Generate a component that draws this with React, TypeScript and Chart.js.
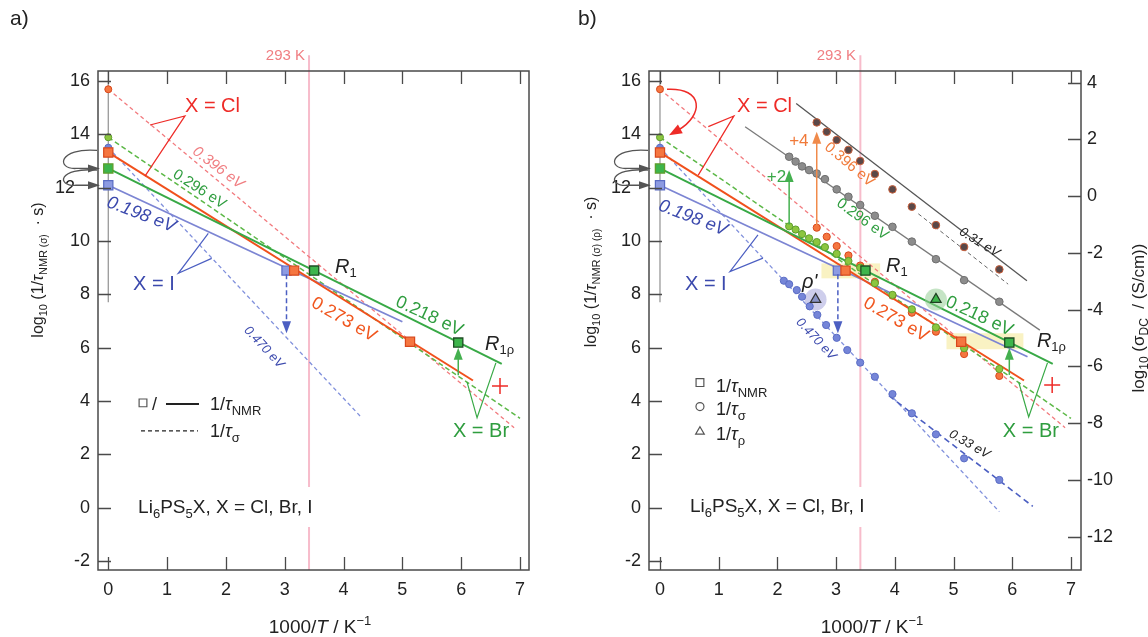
import React, { useEffect, useRef } from 'react';
import { Chart, registerables } from 'chart.js';

Chart.register(...registerables);
const FONT = '"Liberation Sans", Arial, Helvetica, sans-serif';
Chart.defaults.font.family = FONT;

// ---------- axes ----------
const xTicks = [0, 1, 2, 3, 4, 5, 6, 7];
const yTicks = [-2, 0, 2, 4, 6, 8, 10, 12, 14, 16];
const y2Ticks = [-12, -10, -8, -6, -4, -2, 0, 2, 4];
const T293 = 1000 / 293;

// ---------- 1/tau_NMR (squares) ----------
const nmrI_x = [0, 3.03];
const nmrI_y = [12.09, 8.89];
const nmrCl_x = [0, 3.16, 5.13];
const nmrCl_y = [13.32, 8.89, 6.22];
const nmrBr_x = [0, 3.5, 5.95];
const nmrBr_y = [12.72, 8.89, 6.19];

// ---------- 1/tau_sigma at 1000/T = 0 (Cl, Br, I) ----------
const sigInf_y = [15.69, 13.89, 13.5];

// ---------- 1/tau_sigma from conductivity ----------
const sigI_x = [2.11, 2.2, 2.33, 2.42, 2.55, 2.68, 2.83, 3.01, 3.19, 3.41, 3.66, 3.96, 4.29, 4.7, 5.18, 5.78];
const sigI_y = [8.51, 8.38, 8.16, 7.91, 7.55, 7.23, 6.85, 6.37, 5.91, 5.44, 4.91, 4.26, 3.54, 2.75, 1.85, 1.04];
const sigCl_x = [2.67, 2.84, 3.01, 3.21, 3.41, 3.66, 3.96, 4.29, 4.7, 5.18, 5.78];
const sigCl_y = [10.5, 10.16, 9.81, 9.46, 9.08, 8.47, 7.95, 7.31, 6.6, 5.76, 4.94];
const sigBr_x = [2.2, 2.31, 2.42, 2.54, 2.67, 2.81, 3.01, 3.21, 3.41, 3.66, 3.96, 4.29, 4.7, 5.18, 5.78];
const sigBr_y = [10.55, 10.43, 10.26, 10.1, 9.96, 9.77, 9.52, 9.25, 9.0, 8.42, 7.98, 7.44, 6.76, 5.98, 5.2];

// ---------- log10 sigma_DC (right axis) ----------
const dcBr_y = [1.39, 1.22, 1.05, 0.92, 0.8, 0.6, 0.24, -0.02, -0.31, -0.69, -1.08, -1.6, -2.22, -2.96, -3.72];
const dcCl_y = [2.6, 2.27, 1.98, 1.63, 1.24, 0.78, 0.24, -0.37, -1.02, -1.79, -2.58];

// ---------- 1/tau_rho (triangles) ----------
const rho_x = [2.65, 4.7];
const rho_y = [7.81, 7.81];

// ---------- Arrhenius lines (end points) ----------
const fitNmrI_a = [[0, 12.09], [5.0, 6.97]];
const fitNmrI_b = [[0, 12.09], [6.26, 5.66]];
const fitNmrCl = [[0, 13.32], [6.2, 4.77]];
const fitNmrBr = [[0, 12.72], [6.69, 5.39]];
const fitSigCl = [[0, 15.69], [6.9, 3.0]];
const fitSigBr = [[0, 13.89], [7.0, 3.35]];
const fitSigI_a = [[0, 13.5], [4.28, 3.44]];
const fitSigI_b = [[0, 13.5], [5.78, -0.15]];
const fitSigI_low = [[3.9, 4.2], [6.35, 0.05]];
const fitDcBr = [[1.45, 2.45], [6.47, -4.72]];
const fitDcCl = [[2.32, 3.27], [6.25, -2.98]];
const fitDcCl_ext = [[4.4, -0.62], [5.93, -3.1]];
const infLine = [[0, 16.37], [0, 7.7]];

// ---------- colours ----------
const INK = '#222222';
const FRAME = '#4a4a4a';
const BLUE_L = '#7c85d3', BLUE_SQ = '#8d9be2', BLUE_SQB = '#5a6cc4', BLUE_D = '#8090dc', BLUE_DD = '#4c5fc2', BLUE_T = '#3b49ad', BLUE_C = '#7585d8';
const ORANGE_L = '#f0501c', ORANGE_SQ = '#f57640', ORANGE_SQB = '#d8481c', ORANGE_T = '#f0561e';
const PINK_D = '#f27a7e', PINK_T = '#f07e82', PINK_V = '#f7bccb';
const GREEN_L = '#38a946', GREEN_SQ = '#3db54b', GREEN_SQB = '#1e4d24', GREEN_D = '#5cb847', GREEN_C = '#8cc63f', GREEN_CB = '#5f9e2c', GREEN_T = '#2f9d3f';
const RED = '#ee2b27';

type P = { x: number; y: number };
const toPts = (xs: number[], ys: number[]): P[] => xs.map((x, i) => ({ x, y: ys[i] }));
const toSeg = (pairs: number[][]): P[] => pairs.map(([x, y]) => ({ x, y }));

function line(data: P[], color: string, width: number, dash: number[] = [], extra: any = {}) {
  return { data, showLine: true, borderColor: color, borderWidth: width, borderDash: dash, pointRadius: 0, pointHoverRadius: 0, pointHitRadius: 0, fill: false, ...extra };
}
function marks(data: P[], style: string, radius: number, bg: any, border: any, bw = 1, extra: any = {}) {
  return { data, showLine: false, pointStyle: style, pointRadius: radius, pointHoverRadius: radius, pointHitRadius: 0, pointBackgroundColor: bg, pointBorderColor: border, pointBorderWidth: bw, backgroundColor: bg, borderColor: border, ...extra };
}

const S = (t: string, s: number, o: any = {}) => ({ t, s, ...o });

function drawRich(ctx: CanvasRenderingContext2D, segs: any[], x: number, y: number, color: string, align = 'left', rot = 0, mid = false) {
  ctx.save();
  ctx.translate(x, y);
  if (rot) ctx.rotate((rot * Math.PI) / 180);
  const ws: number[] = [];
  let w = 0;
  for (const s of segs) {
    ctx.font = `${s.it ? 'italic ' : ''}${s.s}px ${FONT}`;
    const m = ctx.measureText(s.t).width;
    ws.push(m);
    w += m;
  }
  let cx = align === 'center' ? -w / 2 : align === 'right' ? -w : 0;
  const maxS = Math.max(...segs.map((s) => s.s));
  const by = mid ? maxS * 0.36 : 0;
  ctx.textAlign = 'left';
  ctx.textBaseline = 'alphabetic';
  segs.forEach((s, i) => {
    ctx.font = `${s.it ? 'italic ' : ''}${s.s}px ${FONT}`;
    ctx.fillStyle = s.c || color;
    ctx.fillText(s.t, cx, by + (s.dy || 0));
    cx += ws[i];
  });
  ctx.restore();
}

function arrowHead(ctx: CanvasRenderingContext2D, tx: number, ty: number, dx: number, dy: number, len = 11, hw = 4) {
  const n = Math.hypot(dx, dy) || 1;
  const ux = dx / n, uy = dy / n;
  ctx.beginPath();
  ctx.moveTo(tx, ty);
  ctx.lineTo(tx - ux * len - uy * hw, ty - uy * len + ux * hw);
  ctx.lineTo(tx - ux * len + uy * hw, ty - uy * len - ux * hw);
  ctx.closePath();
  ctx.fill();
}

function overlay(spec: any) {
  return {
    id: 'overlay',
    beforeDatasetsDraw(chart: any) {
      const { ctx, scales } = chart;
      ctx.save();
      ctx.fillStyle = '#f9f2c3';
      (spec.rects || []).forEach(([x0, x1, y0, y1]: number[]) => {
        const X0 = scales.x.getPixelForValue(x0), X1 = scales.x.getPixelForValue(x1);
        const Y0 = scales.y.getPixelForValue(y1), Y1 = scales.y.getPixelForValue(y0);
        ctx.fillRect(X0, Y0, X1 - X0, Y1 - Y0);
      });
      ctx.restore();
    },
    afterDatasetsDraw(chart: any) {
      const { ctx, scales, chartArea } = chart;
      const xs = scales.x, ys = scales.y;
      (spec.arrows || []).forEach((a: any) => {
        const px = xs.getPixelForValue(a.x);
        const p0 = ys.getPixelForValue(a.y0), p1 = ys.getPixelForValue(a.y1);
        const dir = Math.sign(p1 - p0);
        ctx.save();
        ctx.strokeStyle = a.color;
        ctx.fillStyle = a.color;
        ctx.lineWidth = a.w || 1.5;
        ctx.setLineDash(a.dash || []);
        ctx.beginPath();
        ctx.moveTo(px, p0);
        ctx.lineTo(px, p1 - dir * 9);
        ctx.stroke();
        ctx.setLineDash([]);
        arrowHead(ctx, px, p1, 0, dir, 12, 4.5);
        ctx.restore();
      });
      const L = chartArea.left;
      ctx.save();
      ctx.strokeStyle = '#555';
      ctx.fillStyle = '#555';
      ctx.lineWidth = 1.3;
      (spec.curls || []).forEach(([a, b]: number[]) => {
        const y1 = ys.getPixelForValue(a), y2 = ys.getPixelForValue(b);
        ctx.beginPath();
        ctx.moveTo(L - 1, y1);
        ctx.bezierCurveTo(L - 40, y1 - 3, L - 42, y2 + 1, L - 22, y2);
        ctx.lineTo(L - 8, y2);
        ctx.stroke();
        arrowHead(ctx, L + 2, y2, 1, 0, 12, 4);
      });
      ctx.restore();
      if (spec.redCurve) {
        const x0 = xs.getPixelForValue(0);
        const a = ys.getPixelForValue(sigInf_y[0]), b = ys.getPixelForValue(sigInf_y[1]);
        ctx.save();
        ctx.strokeStyle = RED;
        ctx.fillStyle = RED;
        ctx.lineWidth = 1.5;
        ctx.beginPath();
        ctx.moveTo(x0 + 7, a);
        ctx.bezierCurveTo(x0 + 44, a - 2, x0 + 44, b - 22, x0 + 18, b - 7);
        ctx.stroke();
        arrowHead(ctx, x0 + 9, b - 2, -9, 5, 13, 5);
        ctx.restore();
      }
      (spec.texts || []).forEach((t: any) => {
        const px = xs.getPixelForValue(t.x);
        const py = scales[t.ax || 'y'].getPixelForValue(t.y);
        drawRich(ctx, t.segs, px, py, t.color, t.align || 'left', t.rot || 0, !!t.rot || t.mid);
      });
    },
    afterDraw(chart: any) {
      const { ctx, scales, chartArea } = chart;
      const { left, right, top, bottom } = chartArea;
      ctx.save();
      ctx.strokeStyle = FRAME;
      ctx.lineWidth = 1.5;
      ctx.strokeRect(left, top, right - left, bottom - top);
      ctx.lineWidth = 1.3;
      ctx.beginPath();
      xTicks.forEach((v) => {
        const p = Math.round(scales.x.getPixelForValue(v)) + 0.5;
        ctx.moveTo(p, bottom);
        ctx.lineTo(p, bottom - 13);
        ctx.moveTo(p, top);
        ctx.lineTo(p, top + 13);
      });
      yTicks.forEach((v) => {
        const p = Math.round(scales.y.getPixelForValue(v)) + 0.5;
        ctx.moveTo(left, p);
        ctx.lineTo(left + 13, p);
      });
      if (scales.y2) {
        y2Ticks.forEach((v) => {
          const p = Math.round(scales.y2.getPixelForValue(v)) + 0.5;
          ctx.moveTo(right, p);
          ctx.lineTo(right - 13, p);
        });
      }
      ctx.stroke();
      ctx.restore();
      (spec.titles || []).forEach((t: any) => drawRich(ctx, t.segs, t.x, t.y, INK, 'center', t.rot || 0, !!t.rot));
      drawRich(ctx, [S(spec.panel, 21)], spec.panelX, 25, INK);
    },
  };
}

function scalesCfg(xmin: number, xmax: number, yW: number, twelve: string, withY2: boolean) {
  const font = { family: FONT, size: 18 };
  const common = { type: 'linear', grid: { display: false, drawTicks: false }, border: { display: false } };
  const s: any = {
    x: {
      ...common, min: xmin, max: xmax,
      afterBuildTicks: (a: any) => { a.ticks = xTicks.map((v) => ({ value: v })); },
      afterFit: (a: any) => { a.height = 67; },
      ticks: { font, color: INK, padding: 9, maxRotation: 0, autoSkip: false, callback: (v: any) => String(v) },
    },
    y: {
      ...common, position: 'left', min: -2.337, max: 16.375,
      afterBuildTicks: (a: any) => { a.ticks = yTicks.map((v) => ({ value: v })); },
      afterFit: (a: any) => { a.width = yW; },
      ticks: { font, color: INK, padding: 8, autoSkip: false, callback: (v: any) => (v === 12 ? '12' + twelve : String(v)) },
    },
  };
  if (withY2) {
    s.y2 = {
      ...common, position: 'right', min: -13.174, max: 4.412,
      afterBuildTicks: (a: any) => { a.ticks = y2Ticks.map((v) => ({ value: v })); },
      afterFit: (a: any) => { a.width = 67; },
      ticks: { font, color: INK, padding: 6, autoSkip: false, callback: (v: any) => String(v) },
    };
  }
  return s;
}

const LIPS = [S('Li', 19), S('6', 13, { dy: 5 }), S('PS', 19), S('5', 13, { dy: 5 }), S('X, X = Cl, Br, I', 19)];
const tauLbl = (sub: string) => [S('1/', 18), S('τ', 18, { it: true }), S(sub, 13, { dy: 5 })];

function withOrder(ds: any[]) {
  ds.forEach((d, i) => { d.order = -i; });
  return ds;
}

function buildLeft() {
  const ds = withOrder([
    line([{ x: T293, y: 16.97 }, { x: T293, y: 0.78 }], PINK_V, 2, [], { clip: false }),
    line([{ x: T293, y: -0.72 }, { x: T293, y: -2.4 }], PINK_V, 2),
    line(toSeg(infLine), '#9a9a9a', 1.3),
    line(toSeg(fitSigI_a), BLUE_D, 1.3, [4, 3]),
    line(toSeg(fitSigCl), PINK_D, 1.3, [4, 3]),
    line(toSeg(fitSigBr), GREEN_D, 1.5, [5, 3]),
    line(toSeg(fitNmrI_a), BLUE_L, 1.8),
    line(toSeg(fitNmrCl), ORANGE_L, 2),
    line(toSeg(fitNmrBr), GREEN_L, 2),
    line([{ x: 0.709, y: 14.35 }, { x: 1.304, y: 14.69 }, { x: 0.624, y: 12.43 }], RED, 1.2),
    line([{ x: 1.7, y: 10.29 }, { x: 1.19, y: 8.79 }, { x: 1.758, y: 9.35 }], BLUE_DD, 1.2),
    line([{ x: 6.1, y: 4.71 }, { x: 6.27, y: 3.37 }, { x: 6.59, y: 5.43 }], GREEN_L, 1.2),
    marks(toPts([0, 0, 0], sigInf_y), 'circle', 3.5, [ORANGE_SQ, GREEN_C, BLUE_C], [ORANGE_SQB, GREEN_CB, BLUE_SQB]),
    marks(toPts(nmrI_x, nmrI_y), 'rect', 6.5, BLUE_SQ, BLUE_SQB, 1.2),
    marks(toPts(nmrCl_x, nmrCl_y), 'rect', 6.5, ORANGE_SQ, ORANGE_SQB, 1.2),
    marks(toPts(nmrBr_x, nmrBr_y), 'rect', 6.5, GREEN_SQ, [GREEN_CB, GREEN_SQB, GREEN_SQB], 1.3),
    marks([{ x: 6.66, y: 4.56 }], 'cross', 8, RED, RED, 1.5),
    marks([{ x: 0.59, y: 3.93 }], 'rect', 5.5, '#fff', '#555', 1.2),
    line([{ x: 0.981, y: 3.89 }, { x: 1.542, y: 3.89 }], INK, 2),
    line([{ x: 0.556, y: 2.88 }, { x: 1.525, y: 2.88 }], INK, 1.2, [4, 3]),
  ]);
  const texts = [
    { x: 1.304, y: 14.84, segs: [S('X = Cl', 20)], color: RED },
    { x: 0.42, y: 8.16, segs: [S('X = I', 20)], color: BLUE_T },
    { x: 5.86, y: 2.65, segs: [S('X = Br', 20)], color: GREEN_T },
    { x: 3.855, y: 8.79, segs: [S('R', 20, { it: true }), S('1', 13, { dy: 4 })], color: INK },
    { x: 6.405, y: 5.91, segs: [S('R', 20, { it: true }), S('1ρ', 13, { dy: 4 })], color: INK },
    { x: 0.507, y: -0.2, segs: LIPS, color: INK },
    { x: 1.88, y: 12.78, segs: [S('0.396 eV', 15, { it: true })], color: PINK_T, rot: 37, align: 'center' },
    { x: 1.56, y: 11.98, segs: [S('0.296 eV', 15)], color: GREEN_T, rot: 33, align: 'center' },
    { x: 0.57, y: 11.04, segs: [S('0.198 eV', 18, { it: true })], color: BLUE_T, rot: 21, align: 'center' },
    { x: 2.66, y: 6.04, segs: [S('0.470 eV', 13, { it: true })], color: BLUE_T, rot: 47, align: 'center' },
    { x: 4.02, y: 7.1, segs: [S('0.273 eV', 18)], color: ORANGE_T, rot: 30, align: 'center' },
    { x: 5.47, y: 7.23, segs: [S('0.218 eV', 18)], color: GREEN_T, rot: 25, align: 'center' },
    { x: 3.345, y: 16.79, segs: [S('293 K', 15)], color: PINK_T, align: 'right' },
    { x: 0.743, y: 3.67, segs: [S('/', 18)], color: INK },
    { x: 1.729, y: 3.67, segs: tauLbl('NMR'), color: INK },
    { x: 1.729, y: 2.64, segs: tauLbl('σ'), color: INK },
  ];
  const spec = {
    texts,
    arrows: [
      { x: nmrI_x[1], y0: 8.75, y1: 6.54, color: BLUE_DD, dash: [5, 3] },
      { x: nmrBr_x[2], y0: 4.97, y1: 6.0, color: '#44b04f' },
    ],
    curls: [[13.4, 12.72], [12.66, 12.09]],
    titles: [
      { x: 37, y: 270, rot: -90, segs: [S('log', 16), S('10', 11, { dy: 4 }), S(' (1/', 16), S('τ', 16, { it: true }), S('NMR', 11, { dy: 4 }), S(' (σ)', 10, { dy: 4 }), S('  · s)', 16)] },
      { x: 320, y: 633, segs: [S('1000/', 19), S('T', 19, { it: true }), S(' / K', 19), S('−1', 13, { dy: -8 })] },
    ],
    panel: 'a)',
    panelX: 10,
  };
  return {
    type: 'scatter',
    data: { datasets: ds },
    options: {
      animation: false, responsive: false, maintainAspectRatio: false, events: [],
      layout: { padding: { top: 71, right: 45, left: 0, bottom: 0 } },
      plugins: { legend: { display: false }, tooltip: { enabled: false } },
      scales: scalesCfg(-0.175, 7.153, 98, '   ', false),
    },
    plugins: [overlay(spec)],
  };
}

function buildRight() {
  const ds = withOrder([
    line([{ x: T293, y: 16.97 }, { x: T293, y: 0.78 }], PINK_V, 2, [], { clip: false }),
    line([{ x: T293, y: -0.72 }, { x: T293, y: -2.4 }], PINK_V, 2),
    line(toSeg(infLine), '#9a9a9a', 1.3),
    line(toSeg(fitDcBr), '#7a7a7a', 1.3, [], { yAxisID: 'y2' }),
    line(toSeg(fitDcCl), '#555555', 1.3, [], { yAxisID: 'y2' }),
    line(toSeg(fitDcCl_ext), '#666666', 1, [4, 3], { yAxisID: 'y2' }),
    line(toSeg(fitSigI_b), BLUE_D, 1.3, [4, 3]),
    line(toSeg(fitSigI_low), BLUE_DD, 1.6, [6, 4]),
    line(toSeg(fitSigCl), PINK_D, 1.3, [4, 3]),
    line(toSeg(fitSigBr), GREEN_D, 1.5, [5, 3]),
    line(toSeg(fitNmrI_b), BLUE_L, 1.8),
    line(toSeg(fitNmrCl), ORANGE_L, 2),
    line(toSeg(fitNmrBr), GREEN_L, 2),
    line([{ x: 0.823, y: 14.29 }, { x: 1.26, y: 14.69 }, { x: 0.652, y: 12.47 }], RED, 1.2),
    line([{ x: 1.669, y: 10.23 }, { x: 1.192, y: 8.85 }, { x: 1.754, y: 9.36 }], BLUE_DD, 1.2),
    line([{ x: 6.11, y: 4.71 }, { x: 6.28, y: 3.4 }, { x: 6.6, y: 5.43 }], GREEN_L, 1.2),
    marks(toPts(rho_x, rho_y), 'circle', 11, ['rgba(165,165,220,0.55)', 'rgba(150,205,150,0.55)'], 'rgba(0,0,0,0)', 0),
    marks(toPts(sigBr_x, dcBr_y), 'circle', 3.8, '#8c8c8c', '#6f6f6f', 1, { yAxisID: 'y2' }),
    marks(toPts(sigCl_x, dcCl_y), 'circle', 3.8, '#5a4848', '#c8603c', 1, { yAxisID: 'y2' }),
    marks(toPts(sigI_x, sigI_y), 'circle', 3.6, BLUE_C, BLUE_SQB, 1),
    marks(toPts(sigCl_x, sigCl_y), 'circle', 3.6, ORANGE_SQ, ORANGE_SQB, 1),
    marks(toPts(sigBr_x, sigBr_y), 'circle', 3.6, GREEN_C, GREEN_CB, 1),
    marks(toPts([0, 0, 0], sigInf_y), 'circle', 3.5, [ORANGE_SQ, GREEN_C, BLUE_C], [ORANGE_SQB, GREEN_CB, BLUE_SQB]),
    marks(toPts(rho_x, rho_y), 'triangle', 6, ['#8a94c8', GREEN_SQ], ['#333', '#1f3f22'], 1.2),
    marks(toPts(nmrI_x, nmrI_y), 'rect', 6.5, BLUE_SQ, BLUE_SQB, 1.2),
    marks(toPts(nmrCl_x, nmrCl_y), 'rect', 6.5, ORANGE_SQ, ORANGE_SQB, 1.2),
    marks(toPts(nmrBr_x, nmrBr_y), 'rect', 6.5, GREEN_SQ, [GREEN_CB, GREEN_SQB, GREEN_SQB], 1.3),
    marks([{ x: 6.68, y: 4.6 }], 'cross', 8, RED, RED, 1.5),
    marks([{ x: 0.681, y: 4.69 }], 'rect', 5.5, '#fff', '#555', 1.2),
    marks([{ x: 0.681, y: 3.79 }], 'circle', 4, '#fff', '#555', 1.2),
    marks([{ x: 0.681, y: 2.85 }], 'triangle', 5, '#fff', '#555', 1.2),
  ]);
  const texts = [
    { x: 1.312, y: 14.84, segs: [S('X = Cl', 20)], color: RED },
    { x: 0.426, y: 8.16, segs: [S('X = I', 20)], color: BLUE_T },
    { x: 5.84, y: 2.65, segs: [S('X = Br', 20)], color: GREEN_T },
    { x: 3.85, y: 8.84, segs: [S('R', 20, { it: true }), S('1', 13, { dy: 4 })], color: INK },
    { x: 6.42, y: 6.03, segs: [S('R', 20, { it: true }), S('1ρ', 13, { dy: 4 })], color: INK },
    { x: 0.511, y: -0.16, segs: LIPS, color: INK },
    { x: 2.42, y: 8.25, segs: [S("ρ'", 20, { it: true })], color: INK },
    { x: 2.2, y: 13.56, segs: [S('+4', 17)], color: '#f07a3a' },
    { x: 1.82, y: 12.2, segs: [S('+2', 17)], color: '#3aa848' },
    { x: 3.24, y: 12.9, segs: [S('0.396 eV', 15)], color: '#f07a3a', rot: 40, align: 'center' },
    { x: 3.46, y: 10.85, segs: [S('0.296 eV', 15)], color: GREEN_T, rot: 36, align: 'center' },
    { x: 0.57, y: 10.91, segs: [S('0.198 eV', 18, { it: true })], color: BLUE_T, rot: 21, align: 'center' },
    { x: 2.67, y: 6.35, segs: [S('0.470 eV', 13, { it: true })], color: BLUE_T, rot: 47, align: 'center' },
    { x: 4.03, y: 7.1, segs: [S('0.273 eV', 18)], color: ORANGE_T, rot: 30, align: 'center' },
    { x: 5.45, y: 7.23, segs: [S('0.218 eV', 18)], color: GREEN_T, rot: 25, align: 'center' },
    { x: 5.45, y: -1.6, ax: 'y2', segs: [S('0.31 eV', 13, { it: true })], color: INK, rot: 32, align: 'center' },
    { x: 5.28, y: 2.41, segs: [S('0.33 eV', 13, { it: true })], color: INK, rot: 30, align: 'center' },
    { x: 3.338, y: 16.79, segs: [S('293 K', 15)], color: PINK_T, align: 'right' },
    { x: 0.954, y: 4.35, segs: tauLbl('NMR'), color: INK },
    { x: 0.954, y: 3.48, segs: tauLbl('σ'), color: INK },
    { x: 0.954, y: 2.54, segs: tauLbl('ρ'), color: INK },
  ];
  const spec = {
    texts,
    rects: [[2.75, 3.75, 8.6, 9.16], [4.88, 6.19, 5.94, 6.54]],
    arrows: [
      { x: nmrI_x[1], y0: 8.75, y1: 6.54, color: BLUE_DD, dash: [5, 3] },
      { x: nmrBr_x[2], y0: 4.98, y1: 6.0, color: '#44b04f' },
      { x: sigBr_x[0], y0: 10.62, y1: 12.66, color: '#44b04f' },
      { x: sigCl_x[0], y0: 10.58, y1: 14.1, color: '#f08a4a' },
    ],
    curls: [[13.4, 12.72], [12.66, 12.09]],
    redCurve: true,
    titles: [
      { x: 16, y: 272, rot: -90, segs: [S('log', 16), S('10', 11, { dy: 4 }), S(' (1/', 16), S('τ', 16, { it: true }), S('NMR', 11, { dy: 4 }), S(' (σ) (ρ)', 10, { dy: 4 }), S('  · s)', 16)] },
      { x: 564, y: 318, rot: -90, segs: [S('log', 17), S('10', 12, { dy: 4 }), S(' (σ', 17), S('DC', 12, { dy: 4 }), S('  / (S/cm))', 17)] },
      { x: 298, y: 633, segs: [S('1000/', 19), S('T', 19, { it: true }), S(' / K', 19), S('−1', 13, { dy: -8 })] },
    ],
    panel: 'b)',
    panelX: 4,
  };
  return {
    type: 'scatter',
    data: { datasets: ds },
    options: {
      animation: false, responsive: false, maintainAspectRatio: false, events: [],
      layout: { padding: { top: 71, right: 0, left: 0, bottom: 0 } },
      plugins: { legend: { display: false }, tooltip: { enabled: false } },
      scales: scalesCfg(-0.187, 7.171, 75, '  ', true),
    },
    plugins: [overlay(spec)],
  };
}

function Panel({ build, left }: { build: () => any; left: number }) {
  const ref = useRef<HTMLCanvasElement>(null);
  useEffect(() => {
    const chart = new Chart(ref.current as HTMLCanvasElement, build() as any);
    return () => chart.destroy();
  }, []);
  return (
    <canvas
      ref={ref}
      width={574}
      height={637}
      style={{ position: 'absolute', left, top: 0, width: 574, height: 637 }}
    />
  );
}

export default function App() {
  return (
    <div style={{ position: 'absolute', left: 0, top: 0, width: 1148, height: 637, background: '#fff', overflow: 'hidden' }}>
      <Panel build={buildLeft} left={0} />
      <Panel build={buildRight} left={574} />
    </div>
  );
}
